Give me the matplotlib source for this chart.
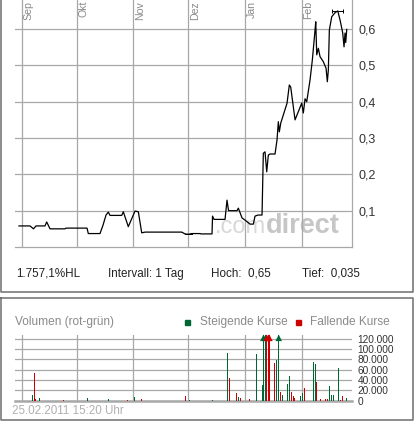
import numpy as np
import pandas as pd
import matplotlib
matplotlib.use("Agg")
import matplotlib.pyplot as plt
from matplotlib.lines import Line2D
from matplotlib.ticker import FuncFormatter

plt.rcParams["font.family"] = ["Liberation Sans", "DejaVu Sans"]

# Kurs (Tage seit 01.09.2010)
origin = pd.Timestamp("2010-09-01")
price_days = [-1.64, 4.38, 6.29, 7.66, 12.59, 13.52, 15.33, 23.54, 24.08, 35.58,
              36.29, 42.69, 44.33, 45.98, 47.24, 48.17, 54.57, 55.45, 58.18, 61.85,
              63.66, 65.52, 67.32, 87.41, 89.22, 91.02, 92.88, 97.43, 97.97, 104.0,
              104.27, 105.09, 111.11, 112.2, 113.03, 117.68, 118.39, 120.42, 122.06, 124.79,
              126.6, 127.53, 129.17, 131.36, 132.07, 133.0, 133.93, 134.81, 135.74, 138.48,
              139.57, 140.28, 140.83, 141.6, 145.05, 146.3, 147.07, 149.43, 153.09, 153.97,
              154.9, 155.83, 157.64, 158.9, 160.37, 160.76, 161.3, 162.18, 163.11, 164.92,
              166.4, 167.1, 167.65, 168.2, 169.51, 171.32, 172.8, 174.06, 175.53, 176.24,
              176.79, 177.17, 177.72]
price = [0.058, 0.058, 0.050, 0.058, 0.058, 0.069, 0.050, 0.050, 0.052, 0.052,
         0.037, 0.037, 0.060, 0.088, 0.096, 0.087, 0.087, 0.097, 0.056, 0.099,
         0.097, 0.039, 0.041, 0.041, 0.036, 0.035, 0.037, 0.037, 0.036, 0.036,
         0.085, 0.076, 0.076, 0.129, 0.100, 0.100, 0.107, 0.080, 0.074, 0.063,
         0.063, 0.085, 0.088, 0.088, 0.258, 0.262, 0.207, 0.253, 0.256, 0.256,
         0.295, 0.345, 0.317, 0.341, 0.396, 0.446, 0.440, 0.350, 0.396, 0.369,
         0.408, 0.400, 0.460, 0.515, 0.597, 0.620, 0.529, 0.547, 0.524, 0.510,
         0.492, 0.455, 0.487, 0.597, 0.634, 0.645, 0.650, 0.625, 0.589, 0.551,
         0.589, 0.563, 0.599]

# Volumen
vol_days = [5.6, 6.7, 7.5, 9.5, 22.6, 35.7, 47.2, 57.6, 61.5, 65.3,
            89.4, 91.6, 104.2, 112.4, 113.5, 117.3, 118.4, 119.5, 124.4, 128.2,
            131.5, 132.1, 133.2, 133.9, 134.8, 135.4, 138.1, 139.2, 140.5, 141.4,
            142.5, 145.2, 146.3, 147.4, 148.5, 149.0, 152.3, 153.4, 154.5, 159.4,
            160.5, 161.1, 163.3, 166.0, 167.1, 168.2, 169.3, 170.4, 173.1, 174.2,
            175.3, 177.5]
vol = [11000, 54000, 3000, 5000, 2000, 5000, 3500, 2000, 7000, 3500,
       9000, 2000, 2000, 92000, 44000, 15500, 7000, 5500, 3500, 90000,
       30000, 150000, 150000, 150000, 150000, 150000, 73000, 79000, 150000, 17000,
       11000, 32000, 48000, 17000, 9000, 5500, 9000, 15000, 24500, 75000,
       71000, 36000, 3500, 3500, 3500, 28000, 11000, 11000, 63000, 2000,
       9000, 5000]
vol_dir = ["g", "r", "r", "g", "r", "g", "g", "r", "g", "r",
           "r", "g", "g", "g", "r", "r", "g", "r", "r", "g",
           "g", "g", "g", "r", "r", "r", "r", "g", "g", "r",
           "g", "g", "g", "r", "r", "r", "g", "g", "r", "g",
           "g", "r", "r", "r", "r", "g", "g", "g", "g", "r",
           "r", "g"]

months = ["Sep", "Okt", "Nov", "Dez", "Jan", "Feb"]
month_starts = ["2010-09-01", "2010-10-01", "2010-11-01", "2010-12-01", "2011-01-01", "2011-02-01"]
month_days = [(pd.Timestamp(m) - origin).days for m in month_starts]

W, H = 417, 425
GRID = "#a8a8a8"
GREEN = "#006633"
RED = "#cc0000"


def fx(x):
    return x / W


def fy(y):
    return 1 - y / H


fig = plt.figure(figsize=(W / 100, H / 100), dpi=100)

# --- Kurs-Chart ---
ax = fig.add_axes([fx(15), fy(247), fx(337), 247 / H])
ax.set_xlim(-3.83, 180.6)
ax.set_ylim(0, 0.68)

ax.text(0.745, 0.057, ".com", transform=ax.transAxes, fontsize=17,
        color="#d8d8d8", ha="right", va="baseline", zorder=0.5)
ax.text(0.745, 0.057, "direct", transform=ax.transAxes, fontsize=19.5, fontweight="bold",
        color="#c6c6c6", ha="left", va="baseline", zorder=0.5)

ax.plot(price_days, price, color="black", lw=0.9, zorder=3)

p = np.array(price)
hi_i, lo_i = int(np.argmax(p)), int(np.argmin(p))
hoch, tief = p[hi_i], p[lo_i]
ax.plot([price_days[hi_i] - 2.9, price_days[hi_i] + 2.9], [hoch, hoch],
        color="black", lw=0.7, marker="|", ms=3.5, mew=0.7, zorder=3)
ax.plot([price_days[lo_i] - 1.8, price_days[lo_i] + 1.8], [tief, tief],
        color="black", lw=0.7, zorder=3)

ax.set_xticks(month_days)
ax.set_xticklabels([])
ax.set_yticks([0.1, 0.2, 0.3, 0.4, 0.5, 0.6])
ax.yaxis.tick_right()
ax.yaxis.set_major_formatter(FuncFormatter(lambda v, _: f"{v:.1f}".replace(".", ",")))
ax.tick_params(length=0, labelsize=9, labelcolor="#333333", pad=5)
ax.grid(True, color=GRID, lw=0.9)
ax.set_axisbelow(True)
for s in ["left", "top"]:
    ax.spines[s].set_visible(False)
for s in ["right", "bottom"]:
    ax.spines[s].set_color(GRID)
    ax.spines[s].set_linewidth(0.9)
ax.set_facecolor("white")

for m, d in zip(months, month_days):
    ax.annotate(m, xy=(d, 1), xycoords=("data", "axes fraction"),
                xytext=(1.5, -1), textcoords="offset pixels",
                rotation=90, ha="left", va="top", fontsize=7.6,
                color="#8a8a8a", annotation_clip=False)

hl = (hoch - tief) / tief * 100
hl_txt = f"{hl:,.1f}".replace(",", "X").replace(".", ",").replace("X", ".")
txt_y = fy(273.5)
fig.text(fx(16.5), txt_y, f"{hl_txt}%HL", fontsize=8.4, color="#222222", va="center")
fig.text(fx(108), txt_y, "Intervall: 1 Tag", fontsize=8.4, color="#222222", va="center")
fig.text(fx(211.5), txt_y, "Hoch:  " + f"{hoch:.2f}".replace(".", ","),
         fontsize=8.4, color="#222222", va="center")
fig.text(fx(301.5), txt_y, "Tief:  " + f"{tief:.3f}".replace(".", ","),
         fontsize=8.4, color="#222222", va="center")

# Rahmen
BORDER = "#6e6e6e"
frame_top = [(0.5, 0), (0.5, 292), (412.5, 292), (412.5, 0)]
fig.add_artist(Line2D([fx(x) for x, _ in frame_top], [fy(y) for _, y in frame_top],
                      color=BORDER, lw=1.1))
frame_bot = [(0.5, 298), (0.5, 419.5), (412.5, 419.5), (412.5, 298), (0.5, 298)]
fig.add_artist(Line2D([fx(x) for x, _ in frame_bot], [fy(y) for _, y in frame_bot],
                      color=BORDER, lw=1.1))

# --- Volumen ---
vx = fig.add_axes([fx(15), fy(400.7), fx(337), (400.7 - 335) / H])
vx.set_xlim(-3.83, 180.6)
vmax = 127000
vx.set_ylim(0, vmax)
cols = [GREEN if c == "g" else RED for c in vol_dir]
vx.bar(vol_days, vol, width=0.55, color=cols, zorder=3)
clip = [i for i, v in enumerate(vol) if v > vmax]
vx.scatter([vol_days[i] for i in clip], [121500] * len(clip), marker="^", s=22,
           c=[cols[i] for i in clip], zorder=4, clip_on=False, linewidths=0)

vx.set_xticks(month_days)
vx.set_xticklabels([])
vx.set_yticks(range(0, 120001, 20000))
vx.yaxis.tick_right()
vx.yaxis.set_major_formatter(FuncFormatter(lambda v, _: f"{int(v):,}".replace(",", ".")))
vx.tick_params(length=0, labelsize=7.3, labelcolor="#333333", pad=4)
vx.grid(True, color=GRID, lw=0.9)
vx.set_axisbelow(True)
for s in ["left", "top", "right"]:
    vx.spines[s].set_visible(False)
vx.spines["bottom"].set_color(GRID)
vx.spines["bottom"].set_linewidth(1.8)

leg_y = fy(322)
fig.text(fx(15), leg_y, "Volumen (rot-grün)", fontsize=8.6, color="#8a8a8a", va="center")
fig.patches.append(plt.Rectangle((fx(185), fy(325)), fx(5), 5 / H, color=GREEN,
                                 transform=fig.transFigure, figure=fig))
fig.text(fx(200), leg_y, "Steigende Kurse", fontsize=8.6, color="#8a8a8a", va="center")
fig.patches.append(plt.Rectangle((fx(296), fy(325)), fx(5), 5 / H, color=RED,
                                 transform=fig.transFigure, figure=fig))
fig.text(fx(310), leg_y, "Fallende Kurse", fontsize=8.6, color="#8a8a8a", va="center")

fig.text(fx(11.5), fy(410.5), "25.02.2011 15:20 Uhr", fontsize=8.4, color="#b0b0b0",
         va="center")

fig.savefig("out.png", dpi=100)
